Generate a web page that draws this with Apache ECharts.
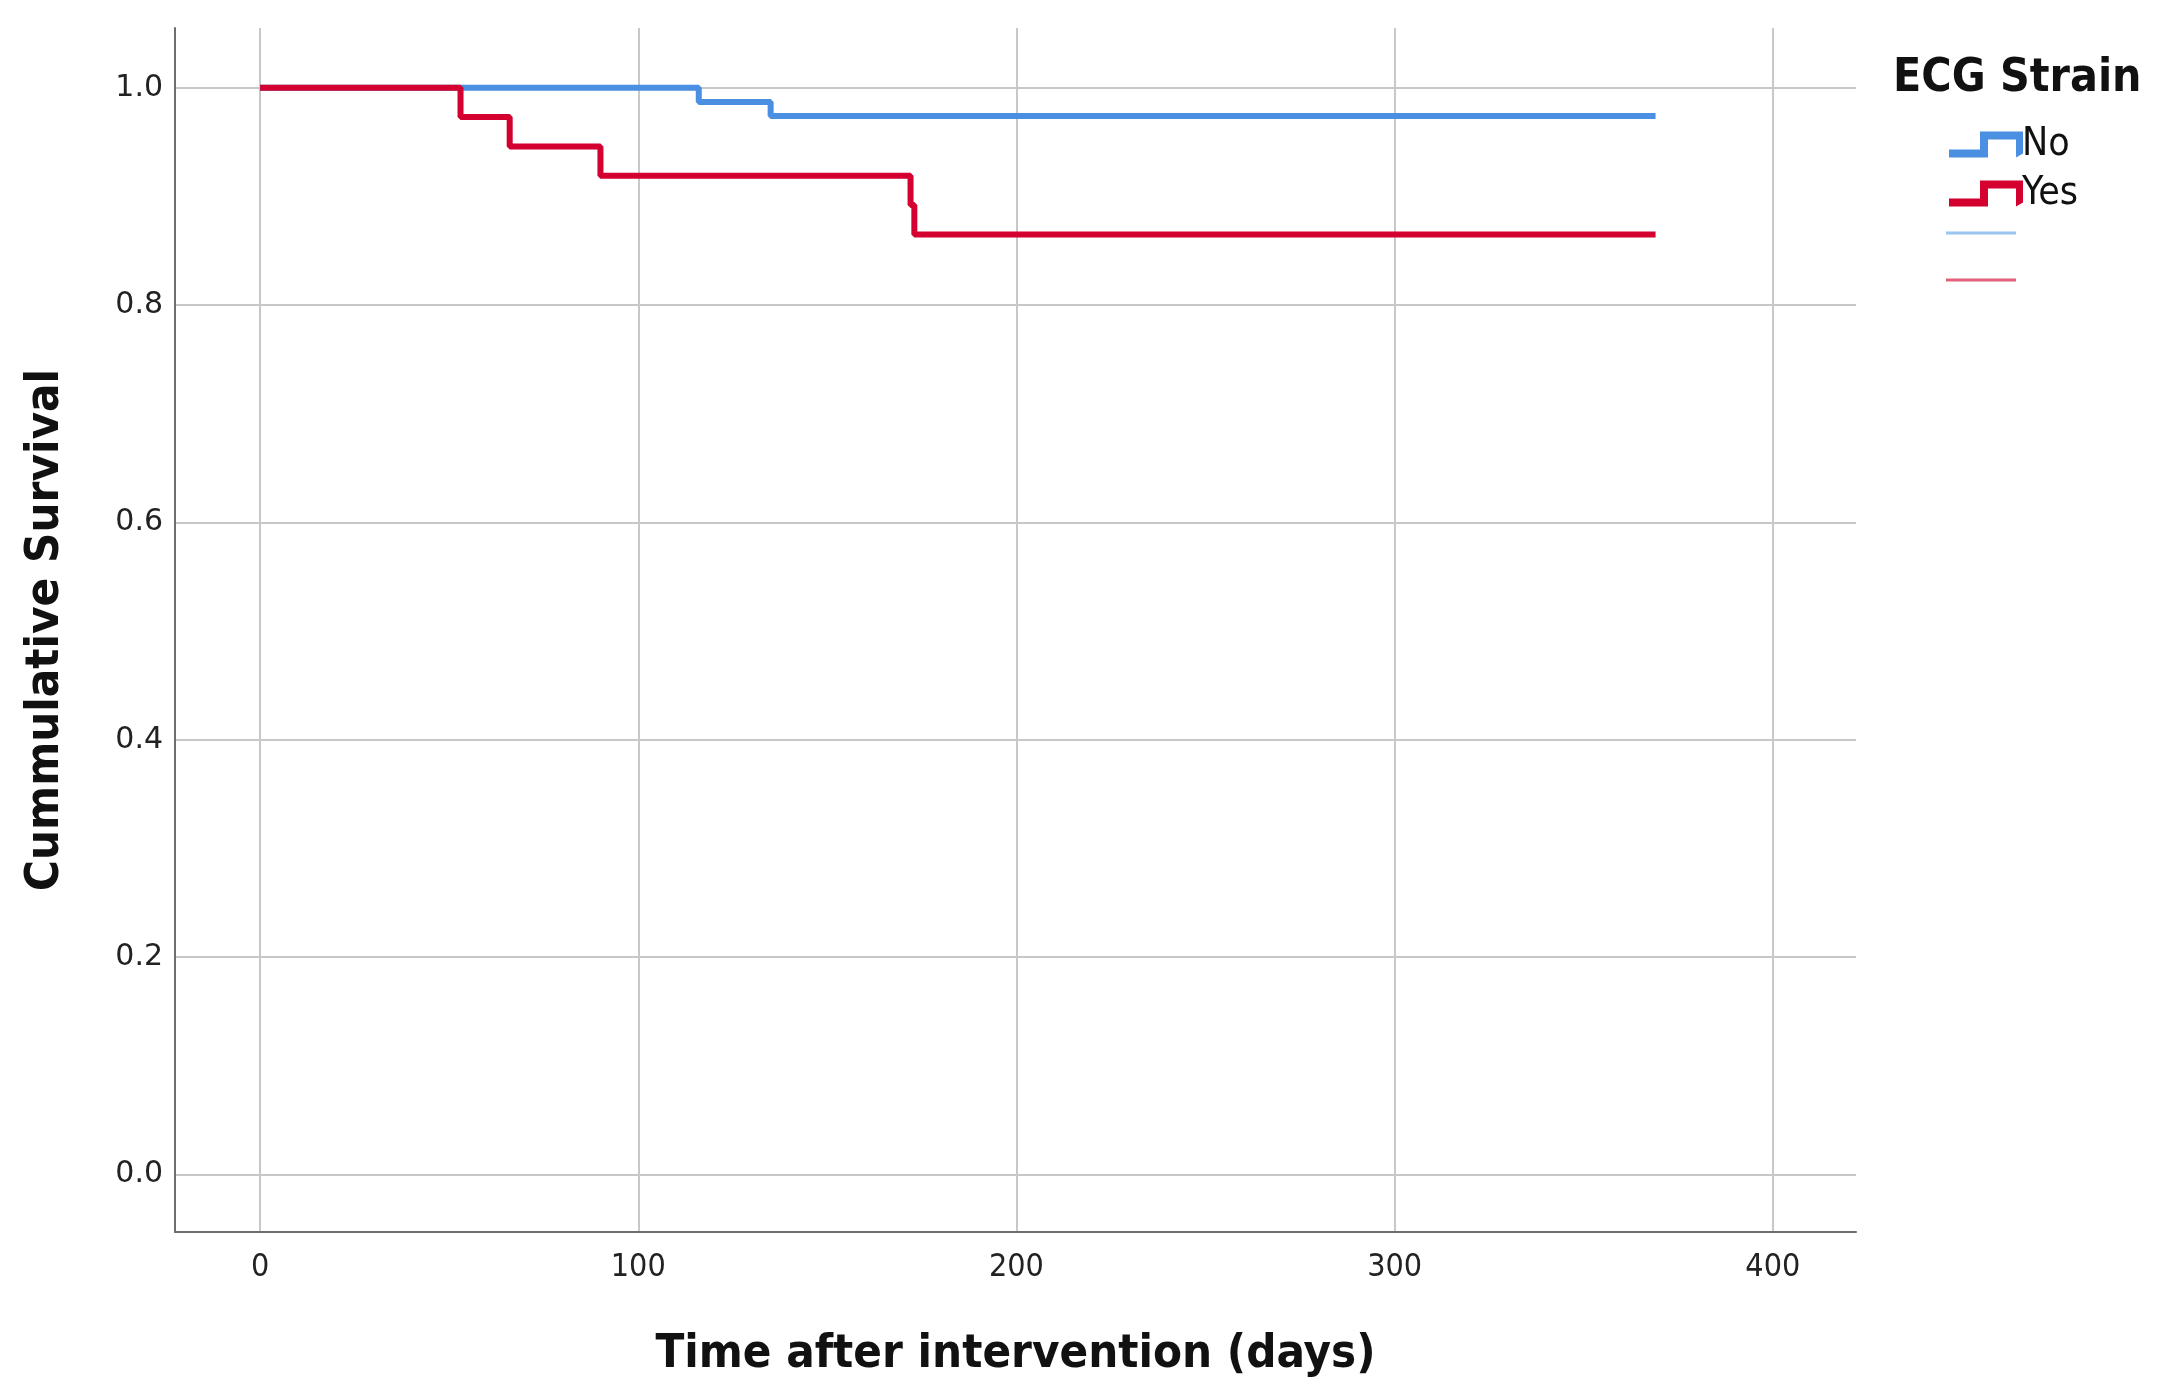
<!DOCTYPE html>
<html><head><meta charset="utf-8">
<script src="https://cdn.jsdelivr.net/npm/echarts@6/dist/echarts.min.js"></script>
<style>html,body{margin:0;padding:0;background:#fff}#c{width:2164px;height:1400px}</style>
</head><body><div id="c"></div>
<script>
// Data (Kaplan-Meier steps)
const noTimes = [0, 116, 135, 369];
const noSurv = [1.0, 0.987, 0.974, 0.974];
const yesTimes = [0, 53, 66, 90, 172, 173, 369];
const yesSurv = [1.0, 0.973, 0.946, 0.919, 0.892, 0.865, 0.865];
const xTicks = [0, 100, 200, 300, 400];
const yTicks = [0.0, 0.2, 0.4, 0.6, 0.8, 1.0];
const seriesNames = ['No', 'Yes'];
const legendTitle = 'ECG Strain';

const BLUE = '#4a8fe2', RED = '#d4002f';
const chart = echarts.init(document.getElementById('c'), null, {renderer: 'canvas'});
const stepIcon = 'path://M0,26 L0,18 L31,18 L31,0 L74,0 L74,22 L67,26 L67,8 L39,8 L39,26 Z';
const option = {
  animation: false,
  backgroundColor: '#fff',
  grid: {left: 175, right: 308, top: 28, bottom: 168, containLabel: false},
  xAxis: {
    type: 'value', min: -22.5, max: 422,
    name: 'Time after intervention (days)', nameLocation: 'middle', nameGap: 99,
    nameTextStyle: {fontFamily: 'DejaVu Sans Condensed', fontWeight: 'bold', fontSize: 47, color: '#111'},
    axisLine: {show: true, onZero: false, lineStyle: {color: '#6e6e6e', width: 2}},
    axisTick: {show: false, customValues: xTicks},
    axisLabel: {customValues: xTicks, margin: 20, fontFamily: 'DejaVu Sans Condensed', fontSize: 32, color: '#222',
      formatter: v => String(Math.round(v))},
    splitLine: {show: true, lineStyle: {color: '#c8c8c8', width: 2}}
  },
  yAxis: {
    type: 'value', min: -0.053, max: 1.055,
    name: 'Cummulative Survival', nameLocation: 'middle', nameGap: 106, nameRotate: 90,
    nameTextStyle: {fontFamily: 'DejaVu Sans Condensed', fontWeight: 'bold', fontSize: 47, color: '#111'},
    axisLine: {show: true, onZero: false, lineStyle: {color: '#6e6e6e', width: 2}},
    axisTick: {show: false, customValues: yTicks},
    axisLabel: {customValues: yTicks, margin: 12, fontFamily: 'DejaVu Sans', fontSize: 30, color: '#222',
      formatter: v => v.toFixed(1)},
    splitLine: {show: true, lineStyle: {color: '#c8c8c8', width: 2}}
  },
  legend: {
    orient: 'vertical', left: 1944, top: 120, itemWidth: 74, itemHeight: 26, itemGap: 10,
    data: seriesNames.map(n => ({name: n, icon: stepIcon})),
    textStyle: {fontFamily: 'DejaVu Sans Condensed', fontSize: 39, color: '#111', padding: [0, 0, 0, -6]},
    selectedMode: false
  },
  graphic: [
    {type: 'text', left: 1893, top: 56, style: {text: legendTitle, font: 'bold 46px "DejaVu Sans Condensed"', fill: '#111'}},
    {type: 'line', shape: {x1: 1946, y1: 233, x2: 2016, y2: 233}, style: {stroke: '#9cc4f0', lineWidth: 3}},
    {type: 'line', shape: {x1: 1946, y1: 280, x2: 2016, y2: 280}, style: {stroke: '#e2607c', lineWidth: 3}}
  ],
  series: [
    {name: seriesNames[0], type: 'line', step: 'end', symbol: 'none', color: BLUE,
     lineStyle: {color: BLUE, width: 6}, data: noTimes.map((t, i) => [t, noSurv[i]])},
    {name: seriesNames[1], type: 'line', step: 'end', symbol: 'none', color: RED,
     lineStyle: {color: RED, width: 6}, data: yesTimes.map((t, i) => [t, yesSurv[i]])}
  ]
};
chart.setOption(option);
</script></body></html>
